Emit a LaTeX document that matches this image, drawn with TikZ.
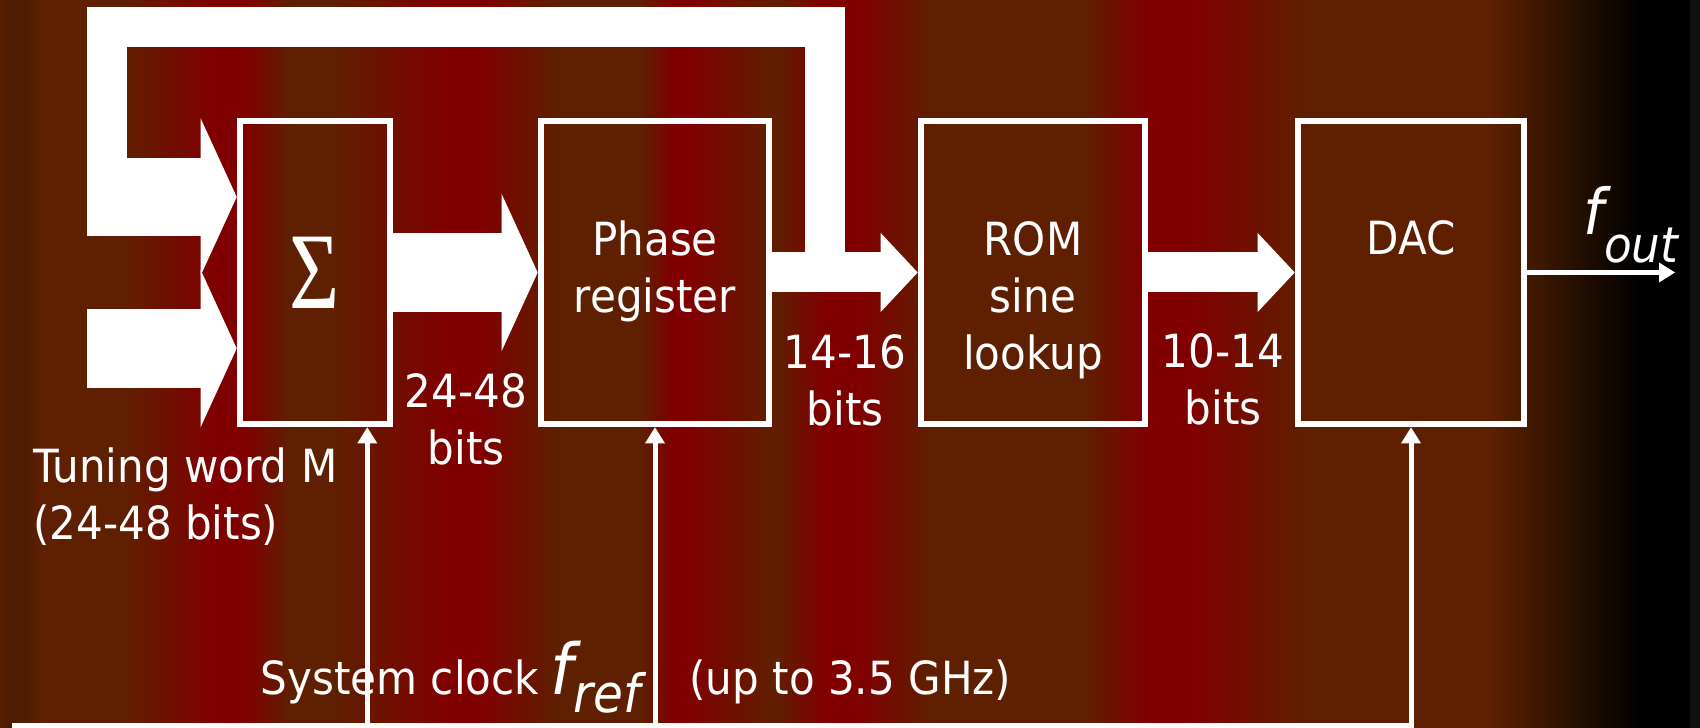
\documentclass[tikz,border=0pt]{standalone}
\usepackage{fontspec}
\setmainfont[FakeStretch=0.92]{DejaVu Sans}
\newfontfamily\sigmafont{Liberation Serif}
\usepackage{graphicx}
\usetikzlibrary{arrows.meta}
\definecolor{bgB}{HTML}{5E2000}
\definecolor{bgR}{HTML}{800000}
\definecolor{bgD}{HTML}{4E1C00}
\definecolor{bgE}{HTML}{581F00}
\definecolor{bgF}{HTML}{251000}
\definecolor{bgG}{HTML}{101010}

\begin{document}
\begin{tikzpicture}[x=0.01cm, y=0.01cm]
 \tikzstyle{blk}=[draw=white, line width=0.065cm, minimum height=3.03cm, inner sep=0pt]
 \tikzstyle{lbl}=[white, inner sep=0pt, align=center, font=\fontsize{13}{16.2}\selectfont]
 \tikzstyle{fat}=[white, line width=0.78cm, -{Triangle[length=0.36cm, width=1.57cm, line width=0pt]}]
 \tikzstyle{slim}=[white, line width=0.4cm, -{Triangle[length=0.37cm, width=0.79cm, line width=0pt]}]
 \tikzstyle{fb}=[white, line width=0.4cm, line join=miter]
 \tikzstyle{clk}=[white, line width=0.05cm, line join=miter, -{Triangle[length=0.16cm, width=0.2cm, line width=0pt]}]
 \useasboundingbox (0,0) rectangle (1700,728);
 % background stripes
 \foreach \xa/\ca/\xb/\cb in {0/bgE/8/bgD, 8/bgD/25/bgD, 25/bgD/40/bgB, 40/bgB/120/bgB,
   120/bgB/213/bgR, 213/bgR/245/bgR, 245/bgR/290/bgB, 290/bgB/330/bgB, 330/bgB/445/bgR,
   445/bgR/480/bgR, 480/bgR/558/bgB, 558/bgB/640/bgB, 640/bgB/672/bgR, 672/bgR/688/bgR,
   688/bgR/775/bgB, 775/bgB/822/bgR, 822/bgR/860/bgR, 860/bgR/933/bgB, 933/bgB/1083/bgB,
   1083/bgB/1143/bgR, 1143/bgR/1190/bgR, 1190/bgR/1310/bgB, 1310/bgB/1490/bgB,
   1490/bgB/1575/bgF, 1575/bgF/1640/black, 1640/black/1690/black, 1690/bgG/1700/bgG}
   \shade[left color=\ca, right color=\cb] (\xa,0) rectangle ({\xb+0.5},728);

 % blocks
 \node[blk, minimum width=1.5cm, text=white, font=\sigmafont\fontsize{31}{31}\selectfont] (sum) at (315,455.5) {\scalebox{0.79}[1]{Σ}};
 \node[blk, minimum width=2.28cm] (phase) at (655,455.5) {};
 \node[blk, minimum width=2.24cm] (rom) at (1033,455.5) {};
 \node[blk, minimum width=2.26cm] (dac) at (1411,455.5) {};
 \node[lbl, anchor=north] (phasetxt) at (655,507.5) {Phase\\register};
 \node[lbl, anchor=north] (romtxt) at (1033,506.8) {ROM\\sine\\lookup};
 \node[lbl, anchor=base] (dactxt) at (1411,473) {DAC};

 % data path
 \coordinate (tw) at (87,379.5);
 \coordinate (fbin) at (87,531);
 \coordinate (fbtop) at (107,701);
 \coordinate (tap) at (825,455.5);
 \draw[fb] (tap) |- (fbtop) -- ([yshift=-0.2cm]fbtop |- fbin);
 \draw[fat] (fbin) -- (fbin -| sum.west);
 \draw[fat] (tw) -- (tw -| sum.west);
 \draw[fat] (sum) -- (phase);
 \draw[slim] (phase) -- (rom);
 \draw[slim] (rom) -- (dac);
 \node[lbl] (w1) at (466,355.3) [anchor=north] {24-48\\bits};
 \node[lbl] (w2) at (845,394.3) [anchor=north] {14-16\\bits};
 \node[lbl] (w3) at (1223,395.3) [anchor=north] {10-14\\bits};
 \node[lbl, align=left, anchor=north west] (tuning) at (32.5,280.7) {Tuning word M\\(24-48 bits)};

 % output
 \coordinate (fout) at (1675,455.5);
 \draw[clk] (dac) -- (fout);
 \node[lbl, anchor=base west] (foutlbl) at (1583,493)
   {{\fontsize{18}{18}\selectfont\itshape f}\raisebox{-7.7pt}{\fontsize{14}{14}\selectfont\itshape out}};

 % clock
 \coordinate (clk) at (12,2.5);
 \coordinate (sumck) at ([xshift=-0.26cm]sum.south east);
 \draw[clk] (clk -| sumck) -- (sumck);
 \draw[clk] (clk -| phase.south) -- (phase.south);
 \draw[clk] (clk) -| (dac.south);
 \node[lbl, anchor=base west] (sysclk) at (260,33)
   {System clock\hspace{3.3pt}{\fontsize{20}{20}\selectfont\itshape f}\raisebox{-5pt}{\fontsize{15}{15}\selectfont\itshape ref}\hspace{14pt}(up to 3.5 GHz)};
\end{tikzpicture}
\end{document}
